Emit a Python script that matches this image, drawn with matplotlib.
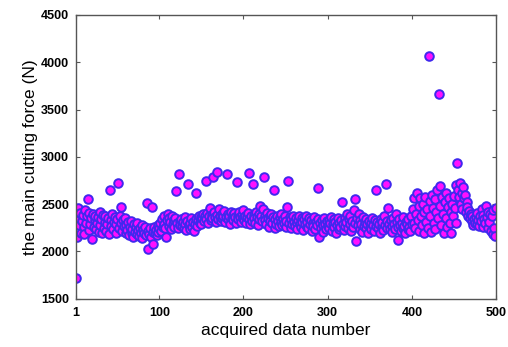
import numpy as np
import matplotlib
matplotlib.use('Agg')
import matplotlib.pyplot as plt

# valori (forza di taglio principale, N), indice 1..500
forza = [
    1720, 2155, 2459, 2280, 2350, 2410, 2200, 2320, 2390, 2260, 2180, 2440, 2300, 2370, 2554, 2230, 2410, 2290, 2350, 2130, 2400, 2260, 2330, 2380, 2240,
    2300, 2360, 2210, 2420, 2280, 2340, 2190, 2390, 2250, 2310, 2370, 2220, 2290, 2350, 2180, 2650, 2330, 2270, 2400, 2240, 2310, 2360, 2200, 2290, 2340,
    2720, 2250, 2380, 2300, 2466, 2220, 2330, 2270, 2350, 2190, 2280, 2230, 2310, 2170, 2260, 2320, 2200, 2240, 2150, 2290, 2210, 2260, 2180, 2300, 2230,
    2160, 2250, 2200, 2280, 2140, 2230, 2190, 2260, 2170, 2508, 2022, 2220, 2180, 2250, 2150, 2466, 2078, 2210, 2260, 2190, 2230, 2170, 2280, 2210, 2250,
    2300, 2220, 2340, 2260, 2380, 2290, 2250, 2149, 2330, 2400, 2270, 2350, 2310, 2240, 2380, 2290, 2330, 2260, 2350, 2638, 2300, 2250, 2815, 2320, 2280,
    2340, 2270, 2310, 2250, 2360, 2290, 2230, 2320, 2709, 2280, 2240, 2300, 2350, 2260, 2310, 2220, 2290, 2340, 2614, 2270, 2330, 2380, 2300, 2360, 2290,
    2350, 2400, 2320, 2380, 2744, 2340, 2410, 2300, 2370, 2460, 2330, 2390, 2350, 2783, 2420, 2360, 2310, 2836, 2390, 2340, 2450, 2370, 2320, 2400, 2350,
    2380, 2430, 2310, 2360, 2815, 2400, 2340, 2370, 2290, 2420, 2350, 2390, 2330, 2410, 2360, 2300, 2737, 2380, 2340, 2420, 2360, 2310, 2390, 2350, 2440,
    2330, 2380, 2300, 2360, 2410, 2826, 2340, 2290, 2370, 2320, 2712, 2390, 2350, 2300, 2420, 2360, 2280, 2400, 2340, 2480, 2380, 2320, 2450, 2783, 2370,
    2330, 2290, 2410, 2350, 2260, 2380, 2320, 2400, 2300, 2360, 2649, 2250, 2340, 2290, 2380, 2320, 2270, 2360, 2310, 2400, 2280, 2340, 2300, 2370, 2260,
    2320, 2470, 2744, 2300, 2360, 2250, 2340, 2290, 2380, 2310, 2270, 2350, 2300, 2240, 2330, 2380, 2290, 2260, 2350, 2310, 2230, 2340, 2290, 2370, 2260,
    2310, 2250, 2350, 2290, 2330, 2220, 2300, 2270, 2360, 2240, 2310, 2280, 2340, 2673, 2155, 2300, 2250, 2330, 2280, 2210, 2350, 2290, 2240, 2320, 2270,
    2330, 2250, 2300, 2360, 2220, 2290, 2340, 2260, 2310, 2200, 2280, 2350, 2240, 2300, 2260, 2330, 2519, 2290, 2230, 2350, 2270, 2310, 2400, 2250, 2340,
    2290, 2370, 2220, 2320, 2260, 2440, 2300, 2554, 2113, 2350, 2280, 2400, 2240, 2330, 2290, 2210, 2360, 2270, 2310, 2250, 2340, 2290, 2200, 2320, 2260,
    2300, 2240, 2350, 2280, 2220, 2330, 2270, 2649, 2310, 2250, 2290, 2200, 2340, 2270, 2310, 2230, 2380, 2280, 2712, 2250, 2320, 2460, 2290, 2240, 2330,
    2270, 2210, 2350, 2290, 2240, 2400, 2310, 2120, 2260, 2340, 2280, 2220, 2300, 2250, 2360, 2270, 2200, 2310, 2290, 2240, 2340, 2260, 2220, 2380, 2290,
    2450, 2300, 2560, 2250, 2400, 2620, 2330, 2480, 2220, 2560, 2380, 2280, 2500, 2200, 2420, 2580, 2310, 2450, 2250, 4069, 2530, 2370, 2210, 2600, 2460,
    2300, 2550, 2240, 2420, 2650, 2350, 3661, 2480, 2695, 2280, 2580, 2400, 2190, 2520, 2350, 2620, 2260, 2470, 2560, 2300, 2420, 2200, 2500, 2380, 2590,
    2460, 2300, 2700, 2938, 2650, 2580, 2720, 2500, 2620, 2450, 2680, 2560, 2600, 2420, 2520, 2470, 2380, 2430, 2350, 2400, 2320, 2380, 2280, 2340, 2300,
    2360, 2290, 2410, 2330, 2270, 2380, 2320, 2450, 2260, 2390, 2340, 2300, 2480, 2360, 2250, 2420, 2310, 2400, 2220, 2370, 2180, 2440, 2250, 2166, 2460,
]
indice = np.arange(1, len(forza) + 1)

xticks = [1, 100, 200, 300, 400, 500]
yticks = [1500, 2000, 2500, 3000, 3500, 4000, 4500]

plt.rcParams['font.family'] = ['Liberation Sans', 'DejaVu Sans']

fig = plt.figure(figsize=(5.08, 3.47), dpi=100)
ax = fig.add_axes([0.1496, 0.139, 0.8268, 0.818])

ax.plot(indice, forza, 'o', ms=6.2, mfc='#ff10ff', mec='#4028ee', mew=1.4)

ax.set_xlim(1, 500)
ax.set_ylim(1500, 4500)
ax.set_xticks(xticks)
ax.set_yticks(yticks)
ax.tick_params(direction='in', length=3, width=0.8, top=True, right=True,
               labelsize=9, color='#555555')
ax.tick_params(axis='x', pad=6)
ax.tick_params(axis='y', pad=5)
for lab in ax.get_xticklabels() + ax.get_yticklabels():
    lab.set_fontweight('bold')
for s in ax.spines.values():
    s.set_color('#555555')
    s.set_linewidth(1.0)

ax.set_xlabel('acquired data number', fontsize=12.5, labelpad=3)
ax.set_ylabel('the main cutting force (N)', fontsize=12.5, labelpad=2)

fig.savefig('out.png', dpi=100)
